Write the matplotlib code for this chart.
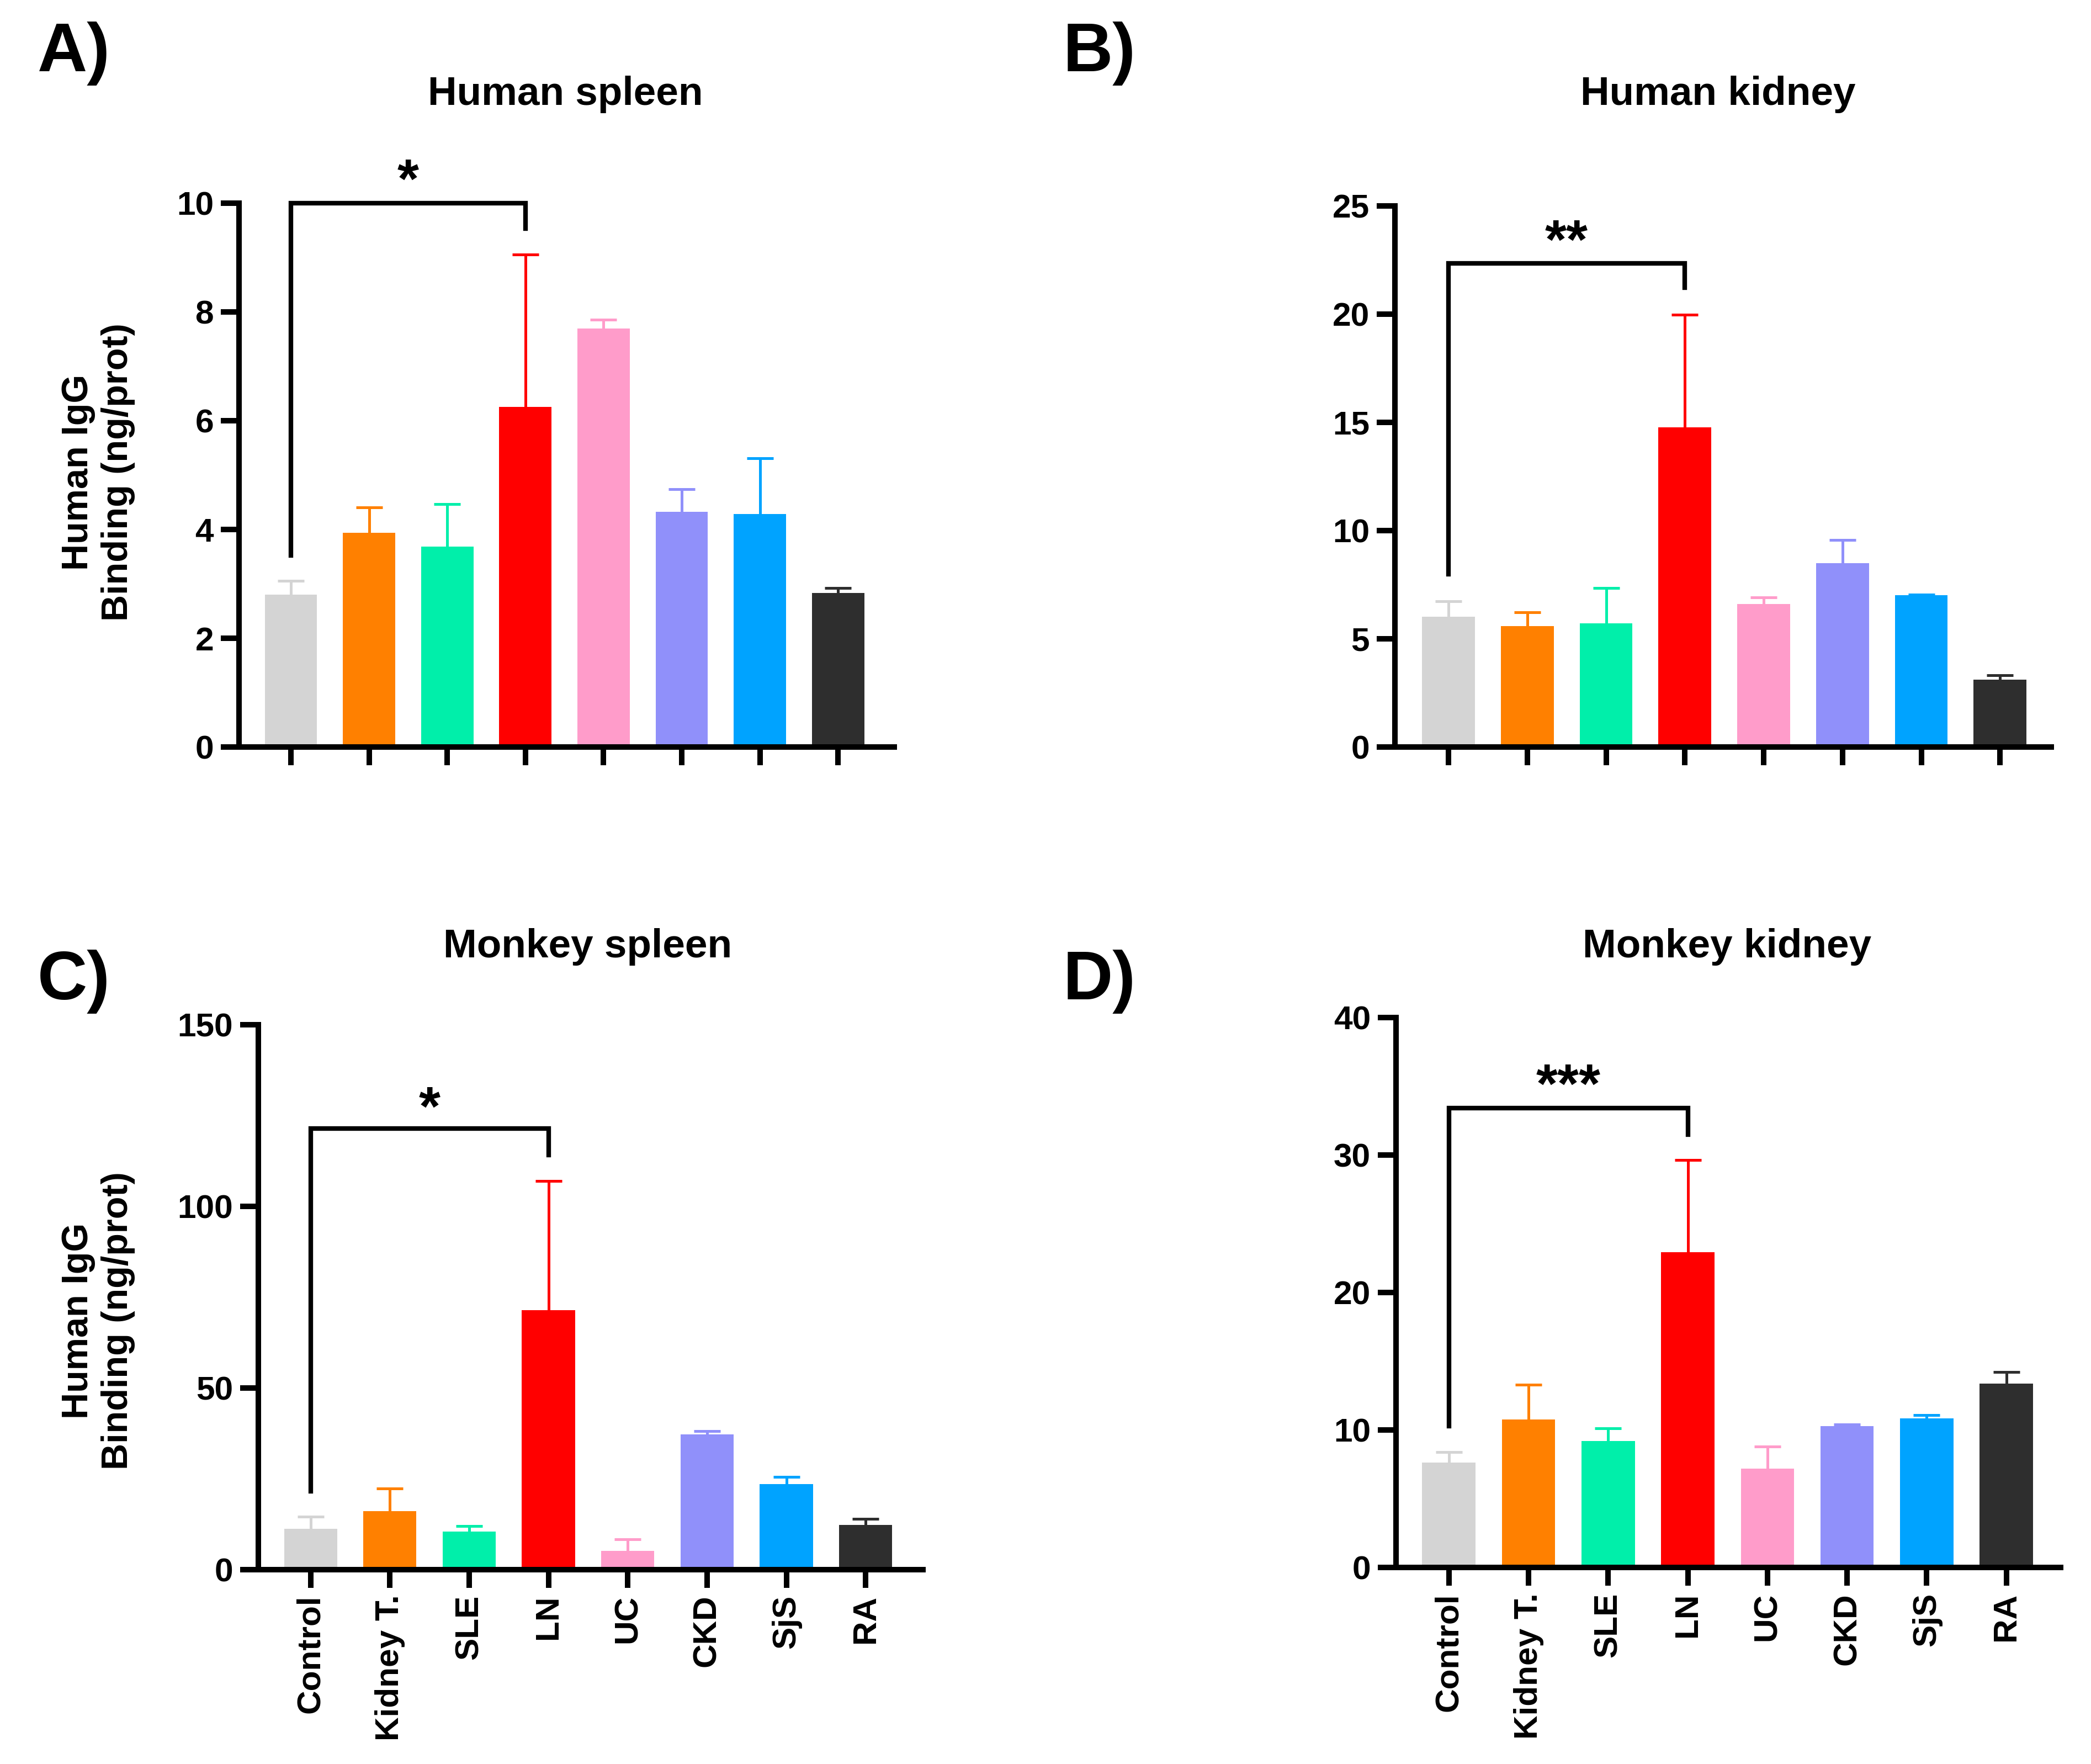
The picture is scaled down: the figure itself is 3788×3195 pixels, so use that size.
import numpy as np
import matplotlib
matplotlib.use('Agg')
import matplotlib.pyplot as plt

plt.rcParams['font.family'] = ['Liberation Sans', 'DejaVu Sans']
plt.rcParams['font.weight'] = 'bold'

# groups and colours
groups = ['Control', 'Kidney T.', 'SLE', 'LN', 'UC', 'CKD', 'SjS', 'RA']
bar_colors = ['#D4D4D4', '#FF8000', '#00EFAA', '#FF0000', '#FF9CCA', '#9090FA', '#00A3FF', '#2E2E2E']

# A) human spleen (mean, upper SEM)
human_spleen = [2.80, 3.94, 3.69, 6.25, 7.70, 4.33, 4.28, 2.83]
human_spleen_err = [0.26, 0.47, 0.78, 2.81, 0.16, 0.41, 1.03, 0.09]

# B) human kidney
human_kidney = [6.03, 5.58, 5.72, 14.78, 6.60, 8.49, 7.02, 3.12]
human_kidney_err = [0.71, 0.64, 1.64, 5.21, 0.31, 1.07, 0.03, 0.19]

# C) monkey spleen
monkey_spleen = [11.2, 16.0, 10.5, 71.3, 5.1, 37.2, 23.5, 12.3]
monkey_spleen_err = [3.3, 6.3, 1.5, 35.6, 3.2, 0.9, 1.9, 1.6]

# D) monkey kidney
monkey_kidney = [7.62, 10.75, 9.19, 22.94, 7.20, 10.29, 10.84, 13.38]
monkey_kidney_err = [0.76, 2.54, 0.93, 6.69, 1.60, 0.12, 0.25, 0.84]

# significance brackets: (left leg bottom, bar height, right leg bottom, star y, label)
sig_A = (3.52, 10.0, 9.53, 10.11, '*')
sig_B = (7.98, 22.35, 21.24, 22.59, '**')
sig_C = (21.5, 121.3, 114.1, 122.4, '*')
sig_D = (10.29, 33.44, 31.5, 33.84, '***')

fig = plt.figure(figsize=(3788 / 300, 3195 / 300), dpi=300)

panels = [
    # rect, xlim, ymax, yticks, title, values, errors, sig, show labels
    ([0.1143, 0.5765, 0.3134, 0.3083], (-0.664, 7.72), 10, np.arange(0, 11, 2),
     'Human spleen', human_spleen, human_spleen_err, sig_A, False),
    ([0.6671, 0.5765, 0.3139, 0.3067], (-0.68, 7.65), 25, np.arange(0, 26, 5),
     'Human kidney', human_kidney, human_kidney_err, sig_B, False),
    ([0.1235, 0.1103, 0.3178, 0.3089], (-0.66, 7.72), 150, np.arange(0, 151, 50),
     'Monkey spleen', monkey_spleen, monkey_spleen_err, sig_C, True),
    ([0.6676, 0.1114, 0.3178, 0.3117], (-0.665, 7.68), 40, np.arange(0, 41, 10),
     'Monkey kidney', monkey_kidney, monkey_kidney_err, sig_D, True),
]
title_pos = [(1024, 171), (3112, 171), (1065, 1715), (3129, 1715)]

x = np.arange(len(groups))
for (rect, xlim, ymax, yticks, title, vals, errs, sig, show_labels), (tx, ty) in zip(panels, title_pos):
    ax = fig.add_axes(rect)
    ax.bar(x, vals, width=0.67, color=bar_colors, zorder=2)
    for xi, v, e, c in zip(x, vals, errs, bar_colors):
        eb = ax.errorbar(xi, v, yerr=[[0], [e]], fmt='none', ecolor=c,
                         elinewidth=1.2, capsize=5.8, capthick=1.2, zorder=1)
        # only keep the upper cap
        for cap in eb[1]:
            if abs(cap.get_ydata()[0] - v) < 1e-9:
                cap.set_visible(False)
    ax.set_xlim(*xlim)
    ax.set_ylim(0, ymax)
    ax.set_yticks(yticks)
    ax.set_xticks(x)
    if show_labels:
        ax.set_xticklabels(groups, rotation=90, fontsize=14.5, fontweight='bold')
    else:
        ax.set_xticklabels([])
    for lab in ax.get_yticklabels():
        lab.set_fontsize(14.5)
        lab.set_fontweight('bold')
    for s in ['top', 'right']:
        ax.spines[s].set_visible(False)
    for s in ['left', 'bottom']:
        ax.spines[s].set_linewidth(2.4)
    ax.tick_params(direction='out', length=8, width=2.4, pad=3)

    # bracket
    lb, top, rb, sy, lab = sig
    ax.plot([0, 0, 3, 3], [lb, top, top, rb], color='black', lw=2.0,
            clip_on=False, zorder=3, solid_joinstyle='miter')
    ax.text(1.5, sy, lab, ha='center', va='baseline', fontsize=24,
            fontweight='bold', clip_on=False)

    fig.text(tx / 3788, 1 - ty / 3195, title, ha='center', va='center',
             fontsize=17.5, fontweight='bold')

# panel letters
for lab, lx, ly in [('A)', 68, 97), ('B)', 1926, 97), ('C)', 68, 1778), ('D)', 1926, 1778)]:
    fig.text(lx / 3788, 1 - ly / 3195, lab, ha='left', va='center',
             fontsize=30, fontweight='bold')

# y axis labels (left column only)
for ly in [855, 2392]:
    fig.text(178 / 3788, 1 - ly / 3195, 'Human IgG\nBinding (ng/prot)', rotation=90,
             ha='center', va='center', fontsize=16, fontweight='bold',
             linespacing=1.2, multialignment='center')

fig.savefig('out.png', dpi=300)
